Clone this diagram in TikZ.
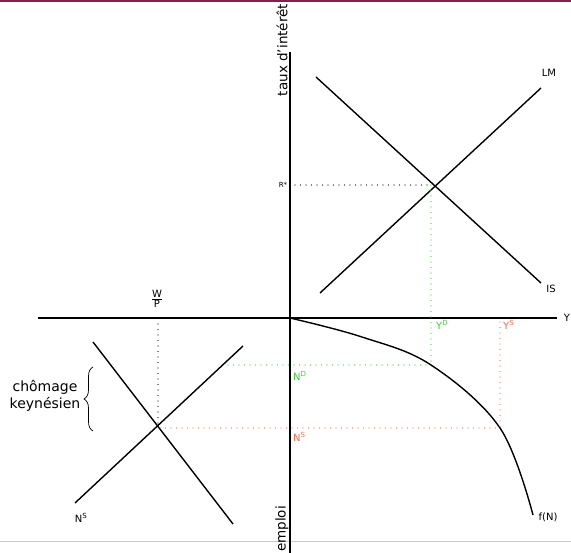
\documentclass[tikz,border=0pt]{standalone}
\usepackage{fontspec}
\setmainfont{DejaVu Sans}
\usetikzlibrary{decorations.pathreplacing}
\definecolor{grn}{RGB}{60,205,60}
\definecolor{sal}{RGB}{240,110,80}
\definecolor{maroon}{RGB}{135,30,80}
\definecolor{pinkl}{RGB}{230,185,205}
\begin{document}
\begin{tikzpicture}[x=1pt,y=-1pt,
  axis/.style={line width=1.2pt},
  curve/.style={line width=1.4pt},
  dot/.style={line width=1.3pt, line cap=round, dash pattern=on 0pt off 5.5pt},
  lbl/.style={font=\fontsize{10}{12}\selectfont, inner sep=0pt},
  big/.style={font=\fontsize{13.5}{16}\selectfont, inner sep=0pt}]
\useasboundingbox (0,0) rectangle (571,553);
% page decorations
\fill[maroon] (0,0) rectangle (571,2);
\draw[pinkl, line width=0.6pt] (0,541) -- (571,541);
% axes
\coordinate (vtop) at (290,52);
\coordinate (vbot) at (290,553);
\coordinate (hl) at (38,318);
\coordinate (hr) at (557,318);
\draw[axis] (vtop) -- (vbot);
\draw[axis] (hl) -- (hr);
\node[big, rotate=90] (taux) at (282,50) {taux d'intérêt};
\node[big, rotate=90, anchor=west] (emploi) at (282,552) {emploi};
\node[lbl] (Y) at (567,318) {Y};
% IS-LM
\coordinate (lm1) at (320,293);
\coordinate (lm2) at (541,88);
\coordinate (is1) at (316,77);
\coordinate (is2) at (541,283);
\coordinate (E) at (431,185);
\draw[curve] (lm1) -- (lm2);
\draw[curve] (is1) -- (is2);
\node[lbl] (LM) at (549,73) {LM};
\node[lbl] (IS) at (551,289) {IS};
\node[font=\fontsize{7}{8}\selectfont, inner sep=0pt] (R) at (283,185) {R*};
\coordinate (Ry) at (295,185);
\draw[dot] (Ry) -- (E);
% production function
\coordinate (O) at (290,318);
\coordinate (ND) at (431,365);
\coordinate (NS) at (500,428);
\coordinate (fend) at (533,515);
\draw[curve] plot[smooth, tension=0.6] coordinates {(290,318) (362,337) (431,365) (500,428) (533,515)};
\node[lbl] (fN) at (548,517) {f(N)};
\coordinate (YSa) at (500,322);
\draw[dot, grn] (E) -- (ND);
\draw[dot, sal] (YSa) -- (NS);
\node[lbl, grn, anchor=west] (YD) at (436,325) {Y\textsuperscript{D}};
\node[lbl, sal, anchor=west] (YS) at (503,325) {Y\textsuperscript{S}};
\coordinate (NDl) at (228,365);
\coordinate (NSl) at (160,428);
\draw[dot, grn] (NDl) -- (ND);
\draw[dot, sal] (NSl) -- (NS);
\node[lbl, grn, anchor=west] (NDt) at (293,376) {N\textsuperscript{D}};
\node[lbl, sal, anchor=west] (NSt) at (293,437) {N\textsuperscript{S}};
% labour market
\coordinate (d1) at (93,342);
\coordinate (d2) at (233,524);
\coordinate (s1) at (75,503);
\coordinate (s2) at (243,346);
\coordinate (L) at (158,428);
\coordinate (Lw) at (158,324);
\draw[curve] (d1) -- (d2);
\draw[curve] (s1) -- (s2);
\draw[dot] (Lw) -- (L);
\node[font=\fontsize{10}{11}\selectfont, inner sep=0pt] (WP) at (157,299) {$\frac{\mbox{W}}{\mbox{P}}$};
\node[lbl] (NSb) at (81,518) {N\textsuperscript{S}};
\coordinate (b1) at (93,431);
\coordinate (b2) at (93,367);
\draw[decorate, decoration={brace, amplitude=9pt}, line width=0.7pt] (b1) -- (b2);
\node[font=\fontsize{14}{17}\selectfont, inner sep=0pt, align=center] (ch) at (45,396) {chômage\\keynésien};
\end{tikzpicture}
\end{document}
